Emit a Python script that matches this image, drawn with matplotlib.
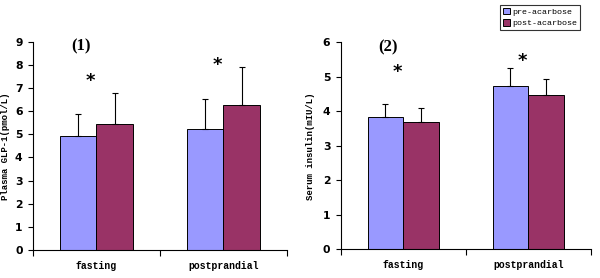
import matplotlib.pyplot as plt
import numpy as np

groups = ["fasting", "postprandial"]
series = ["pre-acarbose", "post-acarbose"]
colors = ["#9999FF", "#993366"]

glp1_mean = [[4.92, 5.23], [5.45, 6.25]]
glp1_err = [[0.96, 1.28], [1.32, 1.67]]
glp1_star = [7.3, 8.0]

ins_mean = [[3.85, 4.74], [3.68, 4.48]]
ins_err = [[0.35, 0.52], [0.41, 0.45]]
ins_star = [5.15, 5.47]

mono = "Liberation Mono"
w = 0.285
x = np.arange(len(groups))

fig = plt.figure(figsize=(6, 2.78), dpi=100)
ax1 = fig.add_axes([0.055, 0.1007, 0.4233, 0.7493])
ax2 = fig.add_axes([0.568, 0.103, 0.4165, 0.7447])


def draw(ax, means, errs, stars, ymax, ylabel, tag, tag_y, label_x):
    for i in range(2):
        pos = x + (i - 0.5) * w
        ax.bar(pos, means[i], w, color=colors[i], edgecolor="black", linewidth=0.7,
               label=series[i], zorder=2)
        ax.errorbar(pos, means[i], yerr=[np.zeros(2), errs[i]], fmt="none",
                    ecolor="black", elinewidth=0.8, capsize=2.5, capthick=0.8, zorder=3)
    for j in range(2):
        ax.text(x[j] - 0.05, stars[j], "*", ha="center", va="center",
                fontsize=13, fontweight="bold")
    ax.text(-0.12, tag_y, tag, ha="center", va="center", fontsize=12,
            fontweight="bold", family="Liberation Serif")
    ax.set_xlim(-0.5, 1.5)
    ax.set_ylim(0, ymax)
    ax.set_yticks(range(ymax + 1))
    ax.set_xticks([-0.5, 0.5, 1.5])
    ax.set_xticklabels([])
    ax.set_xticks(x, minor=True)
    ax.set_xticklabels(groups, minor=True, family=mono, fontweight="bold", fontsize=7)
    ax.tick_params(axis="x", which="minor", length=0, pad=8)
    ax.tick_params(axis="x", which="major", length=4, width=0.8)
    ax.tick_params(axis="y", length=3.5, width=0.8, labelsize=7.8, pad=4)
    for lab in ax.get_yticklabels():
        lab.set_fontweight("bold")
        lab.set_family("DejaVu Sans")
    ax.spines["top"].set_visible(False)
    ax.spines["right"].set_visible(False)
    ax.spines["left"].set_linewidth(0.8)
    ax.spines["bottom"].set_linewidth(0.8)
    ax.set_ylabel(ylabel, family=mono, fontsize=6.5, fontweight="bold")
    ax.yaxis.set_label_coords(label_x, 0.5)


draw(ax1, glp1_mean, glp1_err, glp1_star, 9, "Plasma GLP-1(pmol/L)", "(1)", 8.8, -0.09)
draw(ax2, ins_mean, ins_err, ins_star, 6, "Serum insulin(mIU/L)", "(2)", 5.85, -0.103)

h, l = ax2.get_legend_handles_labels()
leg = fig.legend(h, l, loc="upper left", bbox_to_anchor=(500 / 600, 1 - 5 / 278),
                 prop={"family": mono, "size": 6}, frameon=True, fancybox=False,
                 edgecolor="black", handlelength=0.8, handleheight=0.8,
                 handletextpad=0.3, borderpad=0.35, labelspacing=0.4, borderaxespad=0)
leg.get_frame().set_linewidth(0.8)

fig.savefig("out.png", dpi=100)
